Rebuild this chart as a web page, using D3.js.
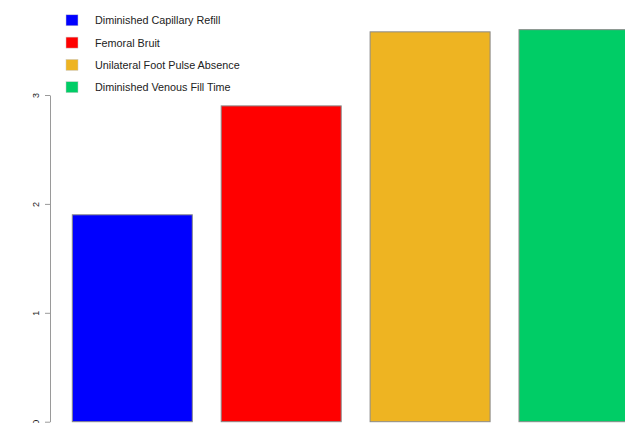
<!DOCTYPE html>
<html>
<head>
<meta charset="utf-8">
<script src="https://cdn.jsdelivr.net/npm/d3@7"></script>
<style>
  html, body { margin: 0; padding: 0; background: #fff; }
  svg { display: block; }
</style>
</head>
<body>
<div id="chart"></div>
<script>
// chart values
var categories = ['Diminished Capillary Refill', 'Femoral Bruit',
  'Unilateral Foot Pulse Absence', 'Diminished Venous Fill Time'];
var values = [1.9, 2.9, 3.58, 3.6];
var colors = ['#0000FF', '#FF0000', '#EEB422', '#00CD66'];
var yTicks = [0, 1, 2, 3];

var W = 625, H = 423;

var svg = d3.select('#chart').append('svg')
  .attr('width', W)
  .attr('height', H);

// bars run past the right edge, as in the source image
var x = d3.scaleBand()
  .domain(categories)
  .range([72.3, 639])
  .paddingInner(0.194)
  .paddingOuter(0);

var y = d3.scaleLinear()
  .domain([0, 3])
  .range([421.7, 95]);

// bars
svg.append('g')
  .selectAll('rect')
  .data(categories)
  .join('rect')
  .attr('x', function (d) { return x(d); })
  .attr('y', function (d, i) { return y(values[i]); })
  .attr('width', x.bandwidth())
  .attr('height', function (d, i) { return y(0) - y(values[i]); })
  .style('fill', function (d, i) { return colors[i]; })
  .style('stroke', '#8a8a8a')
  .style('stroke-width', 1);

// y axis, R style: labels parallel to the axis
var axis = svg.append('g')
  .attr('transform', 'translate(50,0)')
  .call(d3.axisLeft(y).tickValues(yTicks).tickSize(5).tickSizeOuter(0).tickFormat(d3.format('d')));

axis.select('.domain').style('stroke', '#9a9a9a');
axis.selectAll('.tick line').style('stroke', '#9a9a9a');
axis.selectAll('.tick text')
  .attr('x', 0)
  .attr('dy', 0)
  .attr('transform', 'translate(-14.5,0) rotate(-90)')
  .attr('text-anchor', 'middle')
  .attr('dominant-baseline', 'central')
  .style('font-family', 'Liberation Sans, Arial, sans-serif')
  .style('font-size', '9px')
  .style('fill', '#222');

// legend
var legend = svg.append('g')
  .style('font-family', 'Liberation Sans, Arial, sans-serif')
  .style('font-size', '10.8px');

var rows = legend.selectAll('g')
  .data(categories)
  .join('g')
  .attr('transform', function (d, i) { return 'translate(0,' + (20.3 + i * 22.3) + ')'; });

rows.append('rect')
  .attr('x', 66)
  .attr('y', -5.5)
  .attr('width', 12)
  .attr('height', 11)
  .style('fill', function (d, i) { return colors[i]; })
  .style('stroke', '#ccc')
  .style('stroke-width', 0.5);

rows.append('text')
  .attr('x', 95)
  .attr('y', 0)
  .attr('dominant-baseline', 'central')
  .style('fill', '#222')
  .text(function (d) { return d; });
</script>
</body>
</html>
